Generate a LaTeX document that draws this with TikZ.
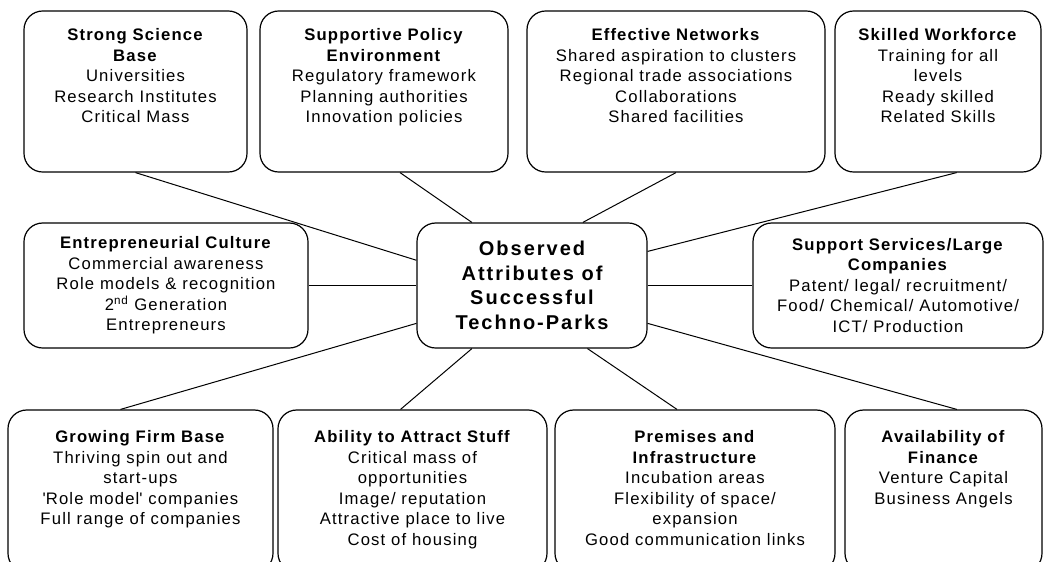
\documentclass[tikz,border=0pt]{standalone}
\usepackage{fontspec}
\setmainfont{Liberation Sans}[LetterSpace=7]
\newfontfamily\hubfont{Liberation Sans}[LetterSpace=10]
\usepackage{tikz}
\usetikzlibrary{calc, positioning}
\tikzstyle{attr} = [rectangle, rounded corners=14pt, draw=black, line width=0.9pt, fill=white, minimum height=120.75pt, inner sep=0pt]
\tikzstyle{midattr} = [rectangle, rounded corners=14pt, draw=black, line width=0.9pt, fill=white, minimum height=93.75pt, align=center, font=\fontsize{12.5}{15.4}\selectfont]
\tikzstyle{hubbox} = [midattr, font=\hubfont\bfseries\fontsize{15}{18.4}\selectfont]
\tikzstyle{lbl} = [align=center, inner sep=0pt, font=\fontsize{12.5}{15.4}\selectfont]
\tikzstyle{link} = [line width=0.75pt]

\begin{document}
\begin{tikzpicture}[x=0.75pt, y=-0.75pt]
\useasboundingbox (0,0) rectangle (1054,561);
\clip (0,0) rectangle (1054,561);

\node (ssb) [attr, minimum width=167.25pt] at (135.5,91.5) {};
\node (spe) [attr, minimum width=186pt] at (384,91.5) {};
\node (eff) [attr, minimum width=223.5pt] at (676,91.5) {};
\node (swf) [attr, minimum width=154.5pt] at (938,91.5) {};

\node (ent) [midattr, minimum width=213pt] at (166,285.5) {\textbf{Entrepreneurial Culture}\\Commercial awareness\\Role models \& recognition\\2\textsuperscript{nd} Generation\\Entrepreneurs};
\node (hub) [hubbox, minimum width=172.5pt] at (532,285.5) {Observed\\Attributes of\\Successful\\Techno-Parks};
\node (sup) [midattr, minimum width=217.5pt] at (898,285.5) {\textbf{Support Services/Large}\\\textbf{Companies}\\Patent/ legal/ recruitment/\\Food/ Chemical/ Automotive/\\ICT/ Production};

\node (gfb) [attr, minimum width=198.75pt, minimum height=121.5pt] at (140.5,491) {};
\node (ata) [attr, minimum width=201.75pt, minimum height=121.5pt] at (412.5,491) {};
\node (pri) [attr, minimum width=210pt, minimum height=121.5pt] at (695,491) {};
\node (avf) [attr, minimum width=147.75pt, minimum height=121.5pt] at (943.5,491) {};

\node (ssb-t) [lbl, below=13.4pt of ssb.north] {\textbf{Strong Science}\\\textbf{Base}\\Universities\\Research Institutes\\Critical Mass};
\node (spe-t) [lbl, below=13.4pt of spe.north] {\textbf{Supportive Policy}\\\textbf{Environment}\\Regulatory framework\\Planning authorities\\Innovation policies};
\node (eff-t) [lbl, below=13.4pt of eff.north] {\textbf{Effective Networks}\\Shared aspiration to clusters\\Regional trade associations\\Collaborations\\Shared facilities};
\node (swf-t) [lbl, below=13.4pt of swf.north] {\textbf{Skilled Workforce}\\Training for all\\levels\\Ready skilled\\Related Skills};
\node (gfb-t) [lbl, below=15.6pt of gfb.north] {\textbf{Growing Firm Base}\\Thriving spin out and\\start-ups\\\textquotesingle Role model\textquotesingle{} companies\\Full range of companies};
\node (ata-t) [lbl, below=15.6pt of ata.north] {\textbf{Ability to Attract Stuff}\\Critical mass of\\opportunities\\Image/ reputation\\Attractive place to live\\Cost of housing};
\node (pri-t) [lbl, below=15.6pt of pri.north] {\textbf{Premises and}\\\textbf{Infrastructure}\\Incubation areas\\Flexibility of space/\\expansion\\Good communication links};
\node (avf-t) [lbl, below=15.6pt of avf.north] {\textbf{Availability of}\\\textbf{Finance}\\Venture Capital\\Business Angels};

\draw [link] (ssb.south) -- ($(hub.north west)!.3!(hub.south west)$);
\draw [link] ([xshift=12pt]spe.south) -- ($(hub.north west)!.24!(hub.north east)$);
\draw [link] (eff.south) -- ($(hub.north west)!.72!(hub.north east)$);
\draw [link] ([xshift=14pt]swf.south) -- ($(hub.north east)!.23!(hub.south east)$);
\draw [link] (ent) -- (hub);
\draw [link] (hub) -- (sup);
\draw [link] ([xshift=-15pt]gfb.north) -- ($(hub.north west)!.8!(hub.south west)$);
\draw [link] ([xshift=-9pt]ata.north) -- ($(hub.south west)!.24!(hub.south east)$);
\draw [link] ([xshift=-13.5pt]pri.north) -- ($(hub.south west)!.74!(hub.south east)$);
\draw [link] ([xshift=10pt]avf.north) -- ($(hub.north east)!.8!(hub.south east)$);

\end{tikzpicture}
\end{document}
